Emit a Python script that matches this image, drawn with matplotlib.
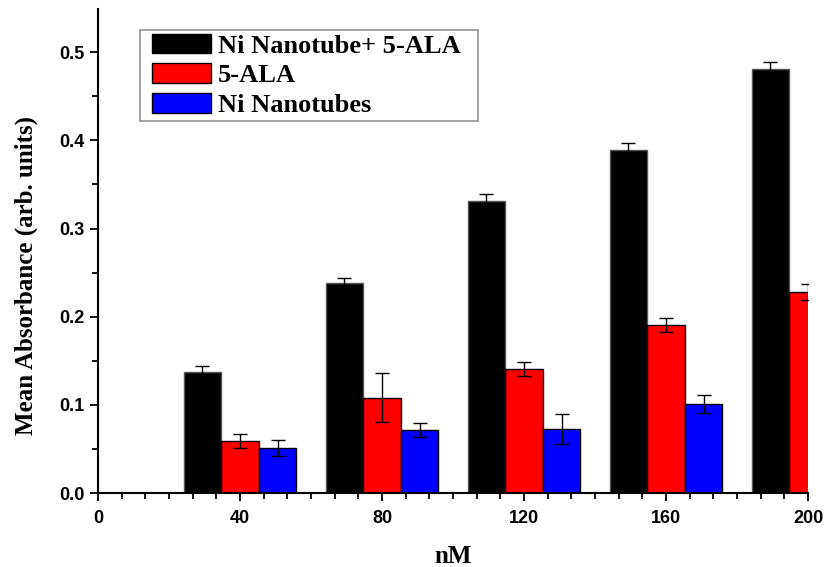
import matplotlib
matplotlib.use("Agg")
import matplotlib.pyplot as plt
from matplotlib.ticker import MultipleLocator
from matplotlib.legend_handler import HandlerPatch
from matplotlib.patches import Rectangle
import numpy as np

concentrations = [40, 80, 120, 160, 200]
combo_vals = [0.137, 0.238, 0.331, 0.389, 0.481]
combo_err = [0.007, 0.006, 0.008, 0.008, 0.008]
ala_vals = [0.059, 0.108, 0.141, 0.191, 0.228]
ala_err = [0.008, 0.028, 0.008, 0.008, 0.009]
ni_vals = [0.051, 0.071, 0.073, 0.101]
ni_err = [0.009, 0.008, 0.017, 0.010]
series_labels = ["Ni Nanotube+ 5-ALA", "5-ALA", "Ni Nanotubes"]
series_colors = ["black", "#ff0000", "#0000ff"]

fig = plt.figure(figsize=(8.27, 5.67), dpi=100)
ax = fig.add_axes([98/827, 74/567, 710/827, 484/567])

w = 10.6
x = np.array(concentrations, dtype=float)
ekw = dict(elinewidth=1.0, capthick=1.0, ecolor="black")
ax.bar(x - w, combo_vals, w, yerr=combo_err, color=series_colors[0], edgecolor="#555555",
       linewidth=1.0, capsize=5, error_kw=ekw, zorder=2)
ax.bar(x, ala_vals, w, yerr=ala_err, color=series_colors[1], edgecolor="black",
       linewidth=1.0, capsize=5, error_kw=ekw, zorder=2)
ax.bar(x[:len(ni_vals)] + w, ni_vals, w, yerr=ni_err, color=series_colors[2], edgecolor="black",
       linewidth=1.0, capsize=5, error_kw=ekw, zorder=2)

ax.set_xlim(0, 200)
ax.set_ylim(0, 0.549)
ax.spines["top"].set_visible(False)
ax.spines["right"].set_visible(False)
for s in ("left", "bottom"):
    ax.spines[s].set_linewidth(1.5)

ax.set_xticks([0, 40, 80, 120, 160, 200])
ax.xaxis.set_minor_locator(MultipleLocator(40/6))
ax.set_yticks([0.0, 0.1, 0.2, 0.3, 0.4, 0.5])
ax.yaxis.set_minor_locator(MultipleLocator(0.05))
ax.tick_params(which="major", length=6, width=1.3, direction="out")
ax.tick_params(which="minor", length=4, width=1.3, direction="out")
ax.tick_params(axis="x", which="major", pad=6)
ax.set_yticklabels(["0.0", "0.1", "0.2", "0.3", "0.4", "0.5"])
for lab in ax.get_xticklabels() + ax.get_yticklabels():
    lab.set_fontfamily("Liberation Sans")
    lab.set_fontweight("bold")
    lab.set_fontsize(13)

ax.set_xlabel("nM", fontfamily="Liberation Serif", fontweight="bold", fontsize=18, labelpad=13)
ax.set_ylabel("Mean Absorbance (arb. units)", fontfamily="Liberation Serif",
              fontweight="bold", fontsize=18)
ax.yaxis.set_label_coords(-0.084, 0.45)


def offset_rect(legend, orig_handle, xdescent, ydescent, width, height, fontsize):
    off = 6.0
    return Rectangle((-xdescent + off, -ydescent), width - off, height)


proxies = [Rectangle((0, 0), 1, 1, facecolor=c, edgecolor="black", linewidth=1.0)
           for c in series_colors]
leg = ax.legend(proxies, series_labels, loc="upper left",
                bbox_to_anchor=(42/710, 0, 338/710, 1 - 21/484), mode="expand",
                prop=dict(family="Liberation Serif", weight="bold", size=19),
                frameon=True, fancybox=False, edgecolor="#777777",
                handlelength=2.55, handleheight=0.76, labelspacing=0.22,
                handletextpad=0.25, borderpad=0.14, borderaxespad=0,
                handler_map={Rectangle: HandlerPatch(patch_func=offset_rect)})
leg.get_frame().set_linewidth(1.2)

fig.savefig("out.png", dpi=100)
